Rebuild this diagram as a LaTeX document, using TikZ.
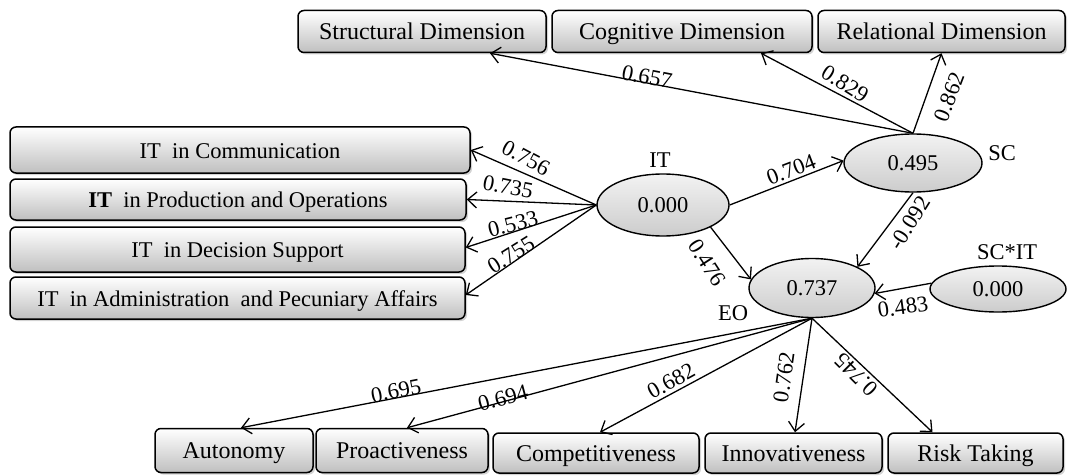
\documentclass[tikz,border=0pt]{standalone}
\usepackage{fontspec}
\setmainfont{Liberation Serif}
\usetikzlibrary{arrows.meta,shadows,shapes.geometric}

\begin{document}
\begin{tikzpicture}[x=1pt,y=-1pt,
  txt/.style={font=\fontsize{22.5}{24}\selectfont},
  big/.style={font=\fontsize{24}{26}\selectfont},
  box/.style={txt, draw=black, line width=1.5pt, rounded corners=6pt,
    top color=white, bottom color=gray!50, inner sep=0pt,
    text height=18pt, text depth=2pt,
    drop shadow={shadow xshift=2pt,shadow yshift=-2pt,opacity=0.35}},
  latent/.style={txt, ellipse, draw=black, line width=1.4pt,
    top color=gray!10, bottom color=gray!40, inner sep=0pt},
  load/.style={line width=1.3pt,
    -{Straight Barb[length=9pt,width=16pt,line width=1.3pt]}},
  coef/.style={txt, inner sep=0pt},
  tag/.style={txt, inner sep=0pt}]
\useasboundingbox (0,0) rectangle (1070,476);

% social capital indicators
\node[box, big, minimum width=248, minimum height=42] (sd) at (422,31.5) {Structural Dimension};
\node[box, big, minimum width=260, minimum height=42] (cd) at (682,31.5) {Cognitive Dimension};
\node[box, big, minimum width=247, minimum height=42] (rd) at (941.5,31.5) {Relational Dimension};

% IT indicators
\node[box, minimum width=460, minimum height=46] (itc) at (240,150) {IT\ \ in Communication};
\node[box, minimum width=456, minimum height=41] (itp) at (238,199.5) {\textbf{IT}\ \ in Production and Operations};
\node[box, minimum width=455, minimum height=45] (itd) at (237.5,249.5) {IT\ \ in Decision Support};
\node[box, minimum width=455, minimum height=42] (ita) at (237.5,298) {IT\ \ in Administration\ \ and Pecuniary Affairs};

% EO indicators
\node[box, big, minimum width=158, minimum height=44] (au) at (234,450.5) {Autonomy};
\node[box, big, minimum width=172, minimum height=44] (pr) at (402,450.5) {Proactiveness};
\node[box, big, minimum width=206, minimum height=40] (co) at (596,453) {Competitiveness};
\node[box, big, minimum width=177, minimum height=40] (in) at (793.5,453) {Innovativeness};
\node[box, big, minimum width=175, minimum height=40] (rt) at (975.5,453) {Risk Taking};

% latent variables
\node[latent, minimum width=132, minimum height=62] (IT) at (663,205) {0.000};
\node[latent, minimum width=138, minimum height=58] (SC) at (913,163) {0.495};
\node[latent, minimum width=126, minimum height=59] (EO) at (812,288) {0.737};
\node[latent, minimum width=136, minimum height=46] (SCIT) at (998,289) {0.000};

\node[tag] (tIT) at (660,160) {IT};
\node[tag] (tSC) at (1002,153) {SC};
\node[tag] (tEO) at (733,313) {EO};
\node[tag] (tSCIT) at (1007,252) {SC*IT};

% loadings of SC
\draw[load] (SC.north) -- ([xshift=68pt]sd.south);
\draw[load] (SC.north) -- ([xshift=79pt]cd.south);
\draw[load] (SC.north) -- (rd.south);
\node[coef, rotate=-11] (c657) at (647,77) {0.657};
\node[coef, rotate=-32] (c829) at (845,84) {0.829};
\node[coef, rotate=69] (c862) at (949,97) {0.862};

% loadings of IT
\draw[load] (IT.west) -- ([yshift=0pt]itc.east);
\draw[load] (IT.west) -- ([yshift=0pt]itp.east);
\draw[load] (IT.west) -- ([yshift=2pt]itd.east);
\draw[load] (IT.west) -- ([yshift=3pt]ita.east);
\node[coef, rotate=-28] (c756) at (526,158) {0.756};
\node[coef, rotate=-11] (c735) at (508,187) {0.735};
\node[coef, rotate=14] (c533) at (513,224) {0.533};
\node[coef, rotate=32] (c755) at (511,255) {0.755};

% structural paths
\draw[load] (IT.east) -- (SC.178);
\draw[load] (IT.-25) -- (EO.172);
\draw[load] (SC.south) -- (EO.25);
\draw[load] (SCIT.175) -- (EO.-5);
\node[coef, rotate=21] (c704) at (791,170) {0.704};
\node[coef, rotate=-57] (c476) at (707,263) {0.476};
\node[coef, rotate=58] (c092) at (910,223) {-0.092};
\node[coef, rotate=8] (c483) at (903,307) {0.483};

% loadings of EO
\draw[load] (EO.south) -- ([xshift=7pt]au.north);
\draw[load] (EO.south) -- ([xshift=5pt]pr.north);
\draw[load] (EO.south) -- ([xshift=4pt]co.north);
\draw[load] (EO.south) -- ([xshift=1.5pt]in.north);
\draw[load] (EO.south) -- ([xshift=-43pt]rt.north);
\node[coef, rotate=11] (c695) at (396,391) {0.695};
\node[coef, rotate=15] (c694) at (503,398) {0.694};
\node[coef, rotate=29] (c682) at (671,381) {0.682};
\node[coef, rotate=82] (c762) at (784,377) {0.762};
\node[coef, rotate=135] (c745) at (856,375) {0.745};
\end{tikzpicture}
\end{document}
